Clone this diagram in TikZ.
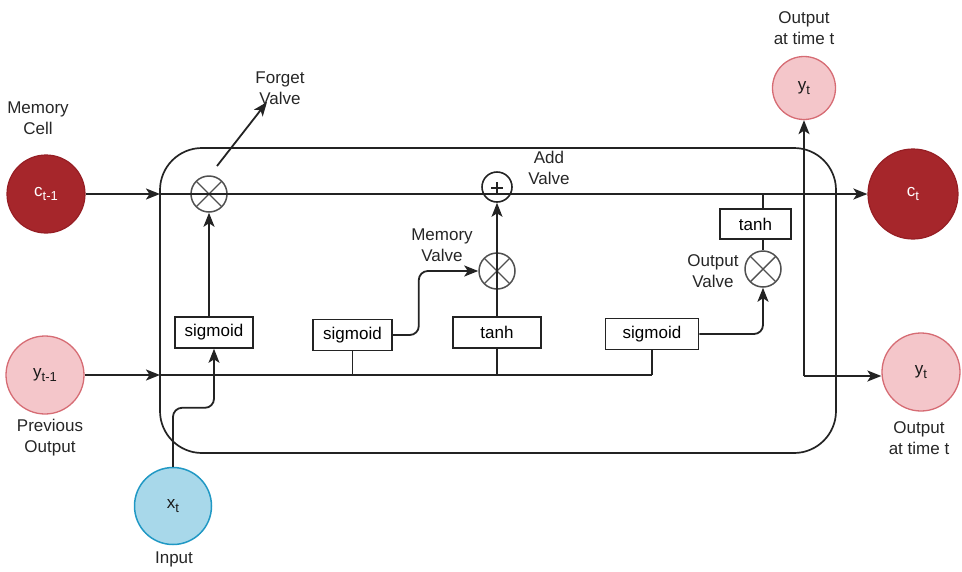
\documentclass[tikz,border=0pt]{standalone}
\usepackage{fontspec}
\setmainfont{Liberation Sans}
\usetikzlibrary{arrows.meta,calc}

\definecolor{cellred}{RGB}{166,38,43}
\definecolor{cellredline}{RGB}{150,30,36}
\definecolor{outpink}{RGB}{244,198,202}
\definecolor{outpinkline}{RGB}{214,108,116}
\definecolor{inblue}{RGB}{168,216,234}
\definecolor{inblueline}{RGB}{32,152,196}
\definecolor{wire}{RGB}{35,35,35}
\definecolor{valvegray}{RGB}{80,80,80}

% variable name with a lowered index
\newcommand{\vname}[2]{#1\raisebox{-0.45ex}{\fontsize{13}{13}\selectfont #2}}

\begin{document}
\begin{tikzpicture}[x=1pt,y=-1pt,
  font=\fontsize{17}{21}\selectfont,
  >={Stealth[length=14pt,width=11pt,inset=3.5pt]},
  wireline/.style={draw=wire, line width=1.8pt},
  cellcirc/.style={circle, fill=cellred, draw=cellredline, line width=1.2pt,
    text=white, inner sep=0pt},
  outcirc/.style={circle, fill=outpink, draw=outpinkline, line width=1.3pt,
    text=black!90, inner sep=0pt},
  incirc/.style={circle, fill=inblue, draw=inblueline, line width=1.5pt,
    text=black!90, inner sep=0pt},
  gatebox/.style={draw=wire, line width=1.6pt, rectangle, fill=white,
    minimum height=31pt, inner sep=0pt},
  mulvalve/.style={circle, draw=valvegray, line width=1.5pt, minimum size=36pt,
    inner sep=0pt,
    path picture={
      \draw[valvegray, line width=1.4pt]
        (path picture bounding box.south west) -- (path picture bounding box.north east)
        (path picture bounding box.north west) -- (path picture bounding box.south east);
    }},
  addvalve/.style={circle, draw=wire, line width=1.6pt, minimum size=30pt,
    inner sep=0pt,
    path picture={
      \draw[wire, line width=1.6pt]
        ([xshift=-6pt,yshift=-1pt]path picture bounding box.center) -- ([xshift=6pt,yshift=-1pt]path picture bounding box.center)
        ([yshift=-7pt]path picture bounding box.center) -- ([yshift=5pt]path picture bounding box.center);
    }},
  caption/.style={align=center, inner sep=0pt, text=black!85}
]
\useasboundingbox (0,0) rectangle (962,571);

% cell body
\draw[wire, line width=1.7pt, rounded corners=42pt] (160,148) rectangle (836,453);

% state, input and output circles
\node[cellcirc, minimum size=78pt] (cprev) at (46,194) {\vname{c}{t-1}};
\node[cellcirc, minimum size=90pt] (cnext) at (913,194) {\vname{c}{t}};
\node[outcirc, minimum size=78pt] (yprev) at (45,375) {\vname{y}{t-1}};
\node[incirc, minimum size=77pt] (xt) at (173,506) {\vname{x}{t}};
\node[outcirc, minimum size=63pt] (ytop) at (804,88) {\vname{y}{t}};
\node[outcirc, minimum size=78pt] (yright) at (921,372) {\vname{y}{t}};

% gate layers
\node[gatebox, minimum width=78pt] (sig1) at (214,332.5) {sigmoid};
\node[gatebox, minimum width=79pt] (sig2) at (352.5,335) {sigmoid};
\node[gatebox, minimum width=88pt] (tanh1) at (497,332.5) {tanh};
\node[gatebox, minimum width=93pt] (sig3) at (652,334) {sigmoid};
\node[gatebox, minimum width=71pt, minimum height=30pt] (tanh2) at (755.5,224) {tanh};

% valves
\node[mulvalve] (fgate) at (209,194) {};
\node[mulvalve] (mgate) at (497,271) {};
\node[addvalve] (agate) at (497,187) {};
\node[mulvalve] (ogate) at (763,269) {};

% junction points
\coordinate (cin) at (160,194);
\coordinate (yin) at (160,375);
\coordinate (yjoin) at (804,376);
\coordinate (fgfrom) at (217,166);
\coordinate (fgto) at (267,102);

% cell state line
\draw[wireline, ->] (cprev.east) -- (cin);
\draw[wireline, ->] (cin) -- (cnext.west);

% previous output bus
\draw[wireline, ->] (yprev.east |- yin) -- (yin);
\draw[wireline] (yin) -- (sig3.south |- yin);
\draw[wireline] (sig2.south) -- (sig2.south |- yin);
\draw[wireline] (tanh1.south) -- (tanh1.south |- yin);
\draw[wireline] (sig3.south) -- (sig3.south |- yin);

% input into the forget sigmoid
\draw[wireline, ->, rounded corners=9pt]
  (xt.north) |- ([yshift=-59pt]sig1.south) -- (sig1.south);

% forget valve
\draw[wireline, ->] (fgate.south |- sig1.north) -- (fgate.south);
\draw[wireline, ->] (fgfrom) -- (fgto);

% memory valve
\draw[wireline, ->, rounded corners=9pt] (sig2.east) -- ++(26,0) |- (mgate.west);
\draw[wireline, ->] (tanh1.north) -- (agate.south);

% output valve
\draw[wireline] (ogate.north |- cin) -- (ogate.north |- tanh2.north);
\draw[wireline] (ogate.north |- tanh2.south) -- (ogate.north);
\draw[wireline, ->, rounded corners=9pt] (sig3.east) -| (ogate.south);

% outputs at time t
\draw[wireline, ->] (yjoin) -- (ytop.south);
\draw[wireline, ->] (yjoin) -- (yjoin -| yright.west);

% captions
\node[caption] at (38,118) {Memory\\Cell};
\node[caption] at (280,88) {Forget\\Valve};
\node[caption] at (549,168) {Add\\Valve};
\node[caption] at (442,245) {Memory\\Valve};
\node[caption] at (713,271) {Output\\Valve};
\node[caption] at (804,28) {Output\\at time t};
\node[caption] at (919,438) {Output\\at time t};
\node[caption] at (50,438) {Previous\\Output};
\node[caption] at (174,559) {Input};
\end{tikzpicture}
\end{document}
